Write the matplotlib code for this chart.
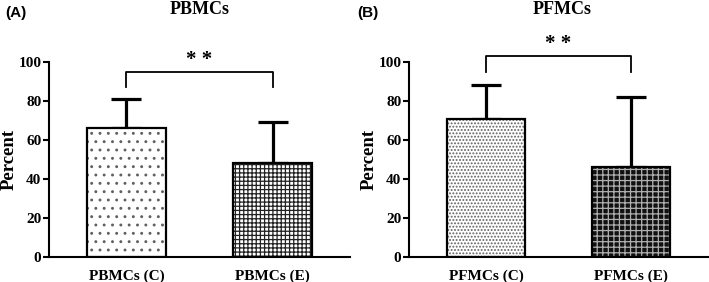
import matplotlib
matplotlib.use("Agg")
import matplotlib.pyplot as plt

# data
panels = ["PBMCs", "PFMCs"]
letters = ["(A)", "(B)"]
labels_a = ["PBMCs (C)", "PBMCs (E)"]
labels_b = ["PFMCs (C)", "PFMCs (E)"]
means_a = [66, 48]
sd_a = [15, 21]
means_b = [71, 46]
sd_b = [17, 36]
bracket_a = (95, 87)   # top of bracket, bottom of legs
bracket_b = (103, 95)
yticks = [0, 20, 40, 60, 80, 100]

serif = "Liberation Serif"
plt.rcParams["hatch.linewidth"] = 0.9

fig = plt.figure(figsize=(7.09, 2.82), dpi=100)

def draw(ax, labels, means, sd, bracket, styles):
    x = [0, 1]
    for i in range(2):
        face, hatch, hcol = styles[i]
        ax.bar(x[i], means[i], width=0.54, color=face, hatch=hatch,
               edgecolor=hcol, linewidth=0, zorder=2)
        ax.bar(x[i], means[i], width=0.54, fill=False, edgecolor="black",
               linewidth=1.6, zorder=3)
    ax.errorbar(x, [m + s / 2 for m, s in zip(means, sd)],
                yerr=[[s / 2 for s in sd], [s / 2 for s in sd]], fmt="none",
                ecolor="black", elinewidth=2.3, capsize=11, capthick=2.3,
                zorder=1)
    top, leg = bracket
    ax.plot([0, 0, 1, 1], [leg, top, top, leg], color="black", lw=1.3,
            clip_on=False)
    ax.text(0.5, top + 1, "* *", ha="center", va="bottom", fontsize=15,
            fontweight="bold", family=serif)
    ax.set_xlim(-0.53, 1.53)
    ax.set_ylim(0, 100)
    ax.set_yticks(yticks)
    ax.set_xticks(x)
    ax.set_xticklabels(labels)
    for s in ["top", "right"]:
        ax.spines[s].set_visible(False)
    for s in ["left", "bottom"]:
        ax.spines[s].set_linewidth(1.5)
    ax.tick_params(axis="y", length=4.5, width=1.5, pad=1)
    ax.tick_params(axis="x", length=0, pad=9)
    for t in ax.get_xticklabels() + ax.get_yticklabels():
        t.set_fontfamily(serif)
        t.set_fontweight("bold")
        t.set_fontsize(11)

ax1 = fig.add_axes([49 / 709, 25 / 282, 301 / 709, 195 / 282])
draw(ax1, labels_a, means_a, sd_a, bracket_a,
     [("white", "..", "#606060"), ("white", "++++", "#222222")])
ax2 = fig.add_axes([409 / 709, 25 / 282, 299 / 709, 195 / 282])
draw(ax2, labels_b, means_b, sd_b, bracket_b,
     [("white", ".....", "#606060"), ("#111111", "+++", "#b0b0b0")])

for ax, x_lab in [(ax1, 9), (ax2, 369)]:
    fig.text(x_lab / 709, 1 - 159 / 282, "Percent", rotation=90, ha="center",
             va="center", fontsize=13.5, fontweight="bold", family=serif)

fig.text(200 / 709, 1 - 9 / 282, panels[0], ha="center", va="center",
         fontsize=13, fontweight="bold", family=serif)
fig.text(562 / 709, 1 - 9 / 282, panels[1], ha="center", va="center",
         fontsize=13, fontweight="bold", family=serif)
fig.text(5 / 709, 1 - 13 / 282, letters[0], ha="left", va="center",
         fontsize=11, fontweight="bold", family="Liberation Sans")
fig.text(357 / 709, 1 - 13 / 282, letters[1], ha="left", va="center",
         fontsize=11, fontweight="bold", family="Liberation Sans")

fig.savefig("out.png", dpi=100)
